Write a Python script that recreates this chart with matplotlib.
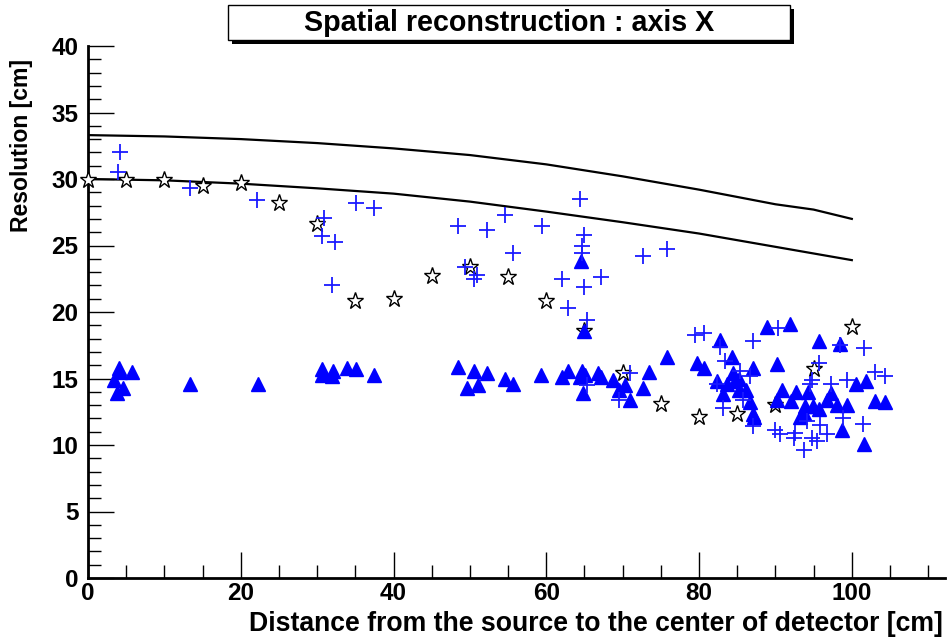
import matplotlib
matplotlib.use('Agg')
from matplotlib import pyplot
from matplotlib.patches import Rectangle
from matplotlib.ticker import MultipleLocator

# curves (expected resolution bands)
curve_x = [0, 10, 20, 30, 40, 50, 60, 70, 80, 90, 95, 100]
curve_upper = [33.3, 33.2, 33.0, 32.7, 32.3, 31.8, 31.1, 30.2, 29.2, 28.1, 27.7, 27.0]
curve_lower = [30.0, 29.9, 29.65, 29.3, 28.9, 28.3, 27.55, 26.75, 25.9, 24.9, 24.4, 23.9]

# open stars
star_x = [0, 5, 10, 15, 20, 25, 30, 35, 40, 45, 50, 55, 60, 65, 70, 75, 80, 85, 90, 95, 100]
star_y = [29.9, 29.9, 29.9, 29.5, 29.7, 28.2, 26.6, 20.8, 21.0, 22.7, 23.4, 22.6, 20.8, 18.6,
          15.4, 13.1, 12.1, 12.3, 13.0, 15.7, 18.9]

# blue crosses
plus_x = [4.2, 3.9, 13.4, 22.1, 30.9, 30.7, 32.3, 32.0, 35.1, 37.4,
          48.4, 52.3, 54.6, 59.4, 64.4, 64.9, 64.7, 64.7, 55.7, 49.4, 50.9, 50.6, 62.0, 67.1,
          64.9, 62.8, 65.3, 72.6, 75.8,
          65.3, 69.5, 71.0,
          79.5, 80.6, 82.7, 90.4, 87.1, 83.4, 85.4, 86.7, 82.3, 83.1, 85.8, 87.1, 90.0,
          95.7, 94.8, 94.5, 97.3, 99.4, 94.1, 95.9, 98.8, 101.5, 90.6, 92.6, 92.4, 94.8, 95.4,
          96.7, 93.7, 98.4, 101.6, 103.1, 104.4]
plus_y = [32.0, 30.5, 29.3, 28.4, 27.1, 25.7, 25.3, 22.0, 28.2, 27.8,
          26.5, 26.2, 27.3, 26.5, 28.5, 25.8, 25.0, 24.4, 24.4, 23.4, 22.8, 22.5, 22.5, 22.6,
          21.9, 20.3, 19.4, 24.2, 24.7,
          14.5, 13.4, 15.4,
          18.3, 18.4, 17.4, 18.8, 17.8, 16.3, 15.6, 15.2, 14.6, 12.8, 13.4, 11.4, 11.1,
          16.2, 14.9, 14.6, 14.6, 14.9, 11.8, 11.5, 12.0, 11.6, 10.8, 10.9, 10.5, 10.5, 10.3,
          10.8, 9.6, 17.5, 17.3, 15.5, 15.2]

# blue filled triangles
tri_x = [4.0, 4.2, 5.7, 3.4, 4.6, 3.8, 13.4, 22.2, 30.7, 30.7, 32.1, 31.9, 33.9, 35.1, 37.4,
         48.4, 50.6, 52.3, 49.6, 51.1, 54.6, 55.6, 59.3, 62.0, 62.8, 64.7, 65.1, 64.4, 64.8,
         66.8, 67.1, 68.7, 69.5, 70.3, 70.9, 72.6, 73.4, 75.8,
         64.6, 65.0,
         79.7, 80.6, 82.7, 88.9, 84.3, 84.5, 85.2, 87.1, 82.3, 83.6, 84.7, 85.2, 86.1, 83.1,
         86.7, 87.1, 87.2, 90.2, 90.2,
         91.9, 95.7, 98.4, 100.6, 101.8, 90.9, 92.7, 94.3, 97.3, 92.0, 96.7, 98.0, 99.4,
         93.9, 94.9, 95.7, 93.2, 93.7, 98.7, 101.6, 103.1, 104.3]
tri_y = [15.8, 15.5, 15.5, 14.9, 14.3, 13.9, 14.6, 14.6, 15.7, 15.3, 15.6, 15.2, 15.8, 15.7, 15.3,
         15.9, 15.6, 15.4, 14.3, 14.5, 15.0, 14.6, 15.3, 15.1, 15.6, 15.6, 15.3, 15.1, 13.9,
         15.4, 15.1, 14.9, 14.1, 14.5, 13.4, 14.3, 15.5, 16.6,
         23.8, 18.6,
         16.2, 15.8, 17.9, 18.9, 16.6, 15.4, 15.0, 15.8, 14.8, 14.6, 14.8, 14.1, 14.1, 13.8,
         13.2, 12.3, 12.1, 16.1, 13.4,
         19.1, 17.8, 17.6, 14.6, 14.8, 14.1, 14.0, 14.0, 13.9, 13.3, 13.4, 13.0, 13.0,
         12.9, 12.9, 12.7, 12.1, 12.4, 11.1, 10.1, 13.3, 13.2]

pyplot.rcParams['font.family'] = ['Liberation Sans', 'DejaVu Sans']
pyplot.rcParams['font.weight'] = 'bold'

fig = pyplot.figure(figsize=(9.5, 6.39), dpi=100)
ax = fig.add_axes([88/950, 61/639, 857/950, 532/639])

ax.plot(curve_x, curve_upper, color='k', lw=1.6, zorder=2)
ax.plot(curve_x, curve_lower, color='k', lw=1.6, zorder=2)
ax.plot(star_x, star_y, ls='none', marker='*', ms=12.5, mfc='white', mec='k', mew=1.0, zorder=3,
	clip_on=False)
ax.plot(tri_x, tri_y, ls='none', marker='^', ms=10, color='#0000ff', zorder=4)
ax.plot(plus_x, plus_y, ls='none', marker='+', ms=11, mew=1.3, color='#1a1aff', zorder=5)

ax.set_xlim(0, 112.2)
ax.set_ylim(0, 40)
ax.xaxis.set_major_locator(MultipleLocator(20))
ax.xaxis.set_minor_locator(MultipleLocator(5))
ax.yaxis.set_major_locator(MultipleLocator(5))
ax.yaxis.set_minor_locator(MultipleLocator(1))

for side in ['top', 'right']:
	ax.spines[side].set_visible(False)
for side in ['left', 'bottom']:
	ax.spines[side].set_linewidth(2)
ax.tick_params(which='major', direction='in', length=19, width=1.0, labelsize=17.5)
ax.tick_params(which='minor', direction='in', length=9.5, width=1.0)
ax.tick_params(axis='x', pad=3)
ax.tick_params(axis='y', pad=7)
for lab in ax.get_xticklabels() + ax.get_yticklabels():
	lab.set_fontweight('bold')

fig.text(943/950, 1 - 624/639, 'Distance from the source to the center of detector [cm]',
	ha='right', va='center', fontsize=19.2, fontweight='bold')
fig.text(22/950, 1 - 59/639, 'Resolution [cm]', rotation=90, ha='center', va='top',
	fontsize=16.6, fontweight='bold')

# title box with shadow
fig.patches.append(Rectangle((232/950, 1 - 44/639), 562/950, 35/639, transform=fig.transFigure,
	facecolor='k', edgecolor='k', lw=0))
fig.patches.append(Rectangle((228/950, 1 - 40/639), 562/950, 35/639, transform=fig.transFigure,
	facecolor='white', edgecolor='k', lw=1))
fig.text(509/950, 1 - 23/639, 'Spatial reconstruction : axis X', ha='center', va='center',
	fontsize=20.6, fontweight='bold')

fig.savefig('out.png', dpi=100)
